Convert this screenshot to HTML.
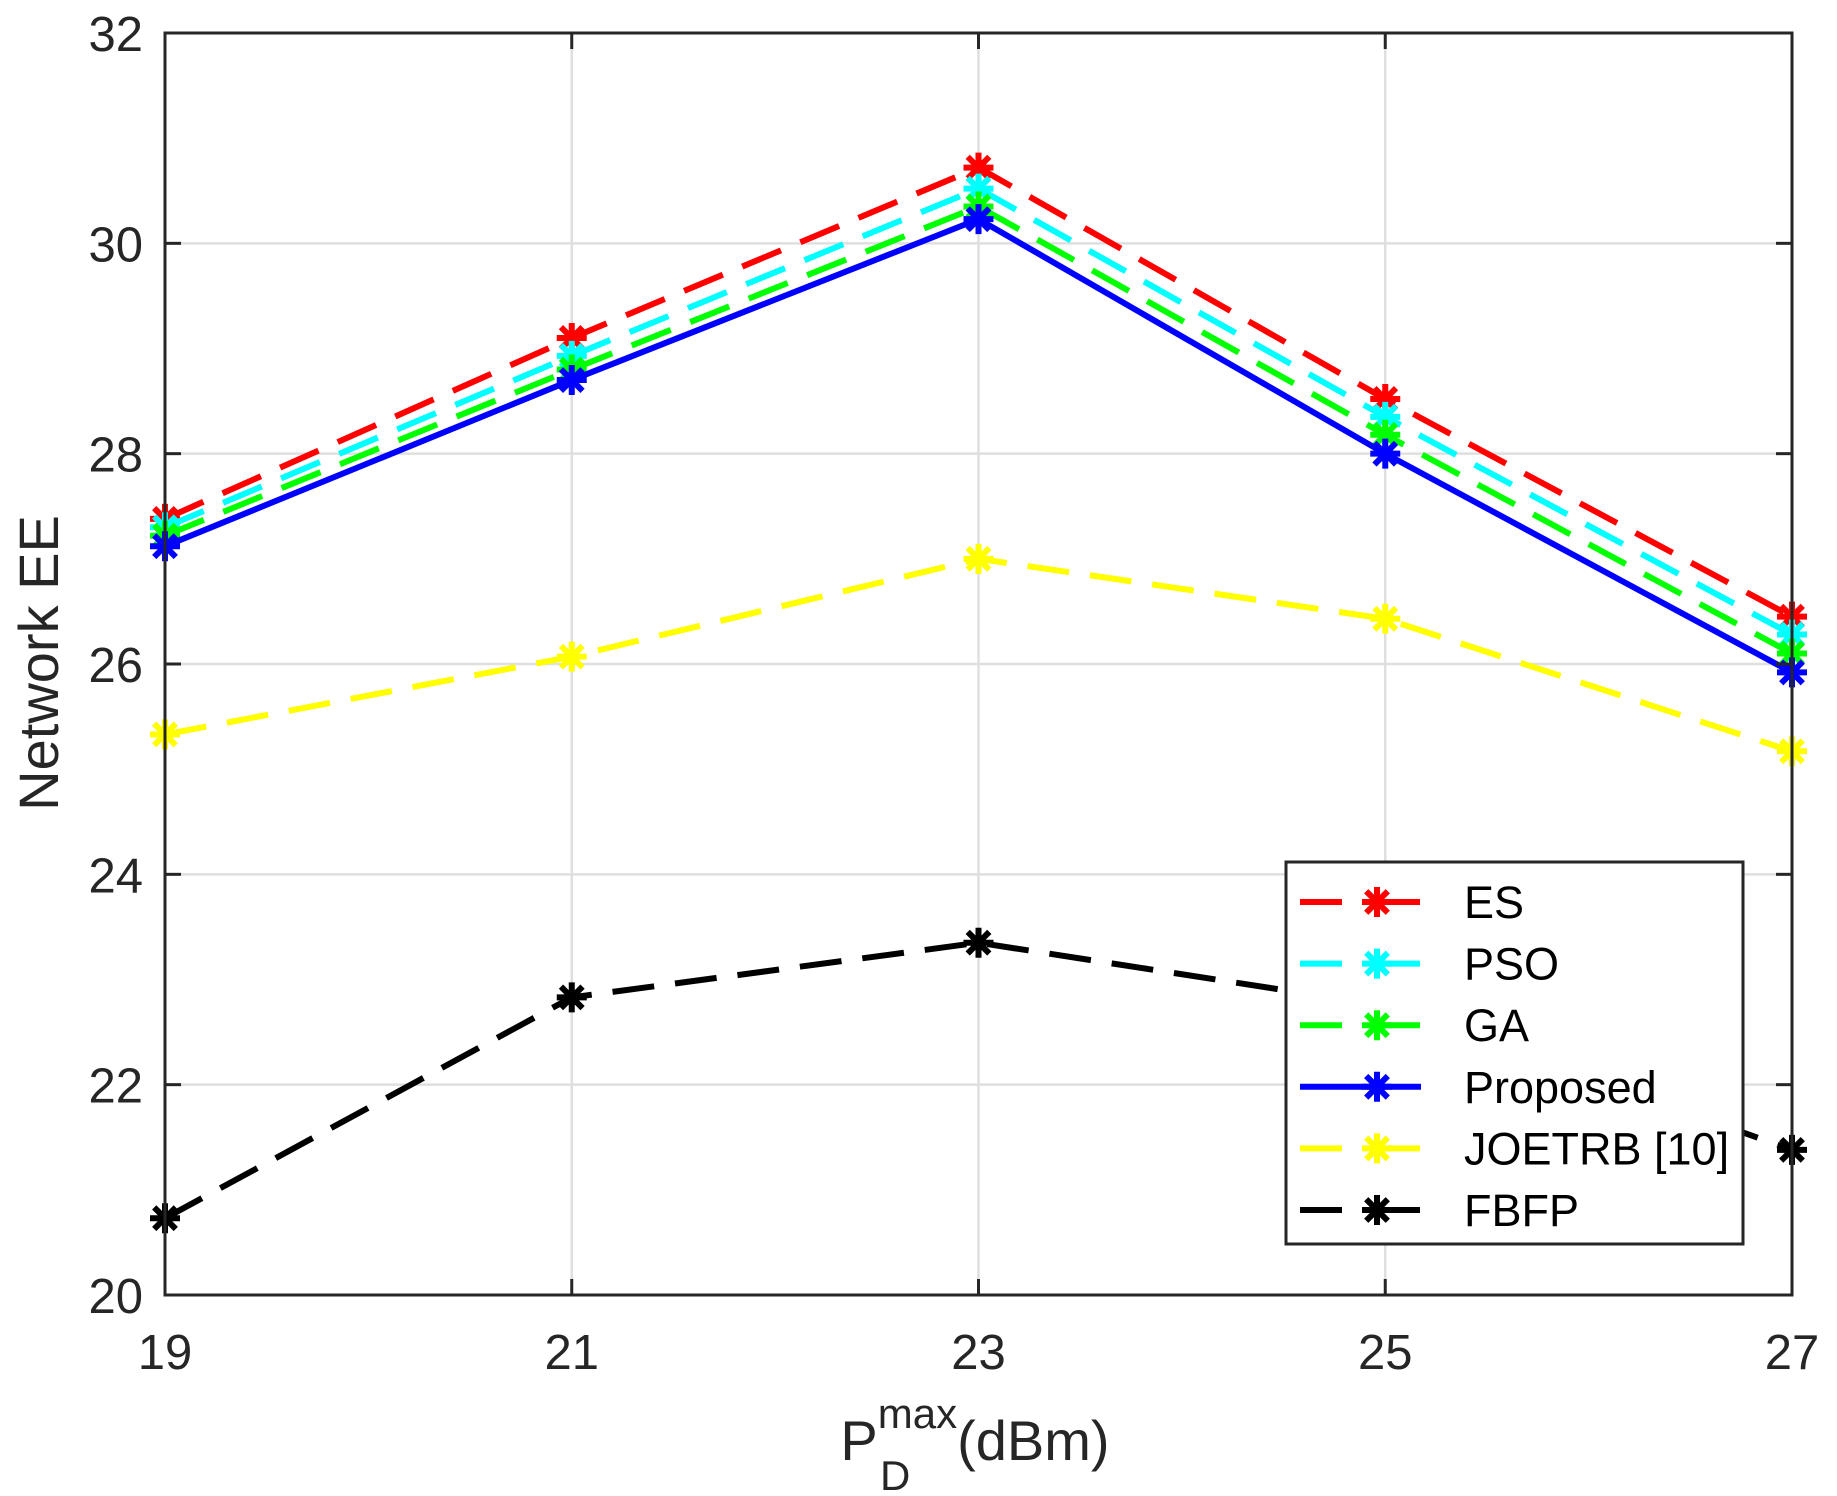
<!DOCTYPE html>
<html><head><meta charset="utf-8"><style>
html,body{margin:0;padding:0;background:#fff;}
svg{display:block;font-family:"Liberation Sans",sans-serif;}
</style></head><body>
<svg id="chart" width="1837" height="1496" viewBox="0 0 1837 1496" xmlns="http://www.w3.org/2000/svg">
<g id="grid"></g>
<g id="series"></g>
<g id="axes"></g>
<text x="0" y="0" transform="translate(58,663) rotate(-90)" text-anchor="middle" font-size="56" fill="#262626">Network EE</text>
<text x="975" y="1460" text-anchor="middle" font-size="56" fill="#262626">P<tspan font-size="42" dy="-32">max</tspan><tspan dy="32">(dBm)</tspan></text>
<text x="880" y="1490" font-size="42" fill="#262626">D</text>
<g id="legend"></g>
</svg>
<script>
const categories = [19, 21, 23, 25, 27];
const seriesNames = ["ES", "PSO", "GA", "Proposed", "JOETRB [10]", "FBFP"];
const esValues = [27.38, 29.10, 30.72, 28.52, 26.45];
const psoValues = [27.30, 28.93, 30.52, 28.35, 26.28];
const gaValues = [27.22, 28.80, 30.35, 28.18, 26.10];
const proposedValues = [27.12, 28.70, 30.23, 28.00, 25.92];
const joetrbValues = [25.33, 26.07, 27.00, 26.43, 25.17];
const fbfpValues = [20.73, 22.83, 23.35, 22.75, 21.38];
const yTicks = [20, 22, 24, 26, 28, 30, 32];
const xTicks = [19, 21, 23, 25, 27];

const NS = "http://www.w3.org/2000/svg";
const L = 165, R = 1792, T = 33, B = 1295;
const xScale = v => L + (v - 19) / 8 * (R - L);
const yScale = v => B - (v - 20) / 12 * (B - T);
function mk(tag, attrs, parent) {
  const e = document.createElementNS(NS, tag);
  for (const k in attrs) e.setAttribute(k, attrs[k]);
  parent.appendChild(e);
  return e;
}
const grid = document.getElementById('grid');
const axes = document.getElementById('axes');
const seriesG = document.getElementById('series');
const legend = document.getElementById('legend');

xTicks.forEach(t => {
  const x = xScale(t);
  const g = mk('line', {x1: x, x2: x, y1: T, y2: B, stroke: '#dfdfdf', 'stroke-width': 2.5}, grid);
  
  
  const t1 = mk('line', {x1: x, x2: x, y1: B, y2: B - 16, stroke: '#262626', 'stroke-width': 3}, axes);
  
  
  const t2 = mk('line', {x1: x, x2: x, y1: T, y2: T + 16, stroke: '#262626', 'stroke-width': 3}, axes);
  
  
  const lb = mk('text', {x: x, y: 1369, 'text-anchor': 'middle', 'font-size': 49, fill: '#262626'}, axes);
  lb.textContent = t;
  
  
});
yTicks.forEach(t => {
  const y = yScale(t);
  const g = mk('line', {x1: L, x2: R, y1: y, y2: y, stroke: '#dfdfdf', 'stroke-width': 2.5}, grid);
  
  
  const t1 = mk('line', {x1: L, x2: L + 16, y1: y, y2: y, stroke: '#262626', 'stroke-width': 3}, axes);
  
  
  const t2 = mk('line', {x1: R, x2: R - 16, y1: y, y2: y, stroke: '#262626', 'stroke-width': 3}, axes);
  
  
  const lb = mk('text', {x: 143, y: y + 18, 'text-anchor': 'end', 'font-size': 49, fill: '#262626'}, axes);
  lb.textContent = t;
  
  
});
const frame = mk('rect', {x: L, y: T, width: R - L, height: B - T, fill: 'none', stroke: '#262626', 'stroke-width': 3}, axes);



function star(cx, cy, color, parent) {
  const s = 15;
  const d = `M${cx-s},${cy}L${cx+s},${cy}M${cx},${cy-s}L${cx},${cy+s}M${cx-s*0.72},${cy-s*0.72}L${cx+s*0.72},${cy+s*0.72}M${cx-s*0.72},${cy+s*0.72}L${cx+s*0.72},${cy-s*0.72}`;
  return mk('path', {d: d, stroke: color, 'stroke-width': 6, fill: 'none'}, parent);
}
const allSeries = [
  {vals: esValues, color: '#ff0000', dash: '42 21'},
  {vals: psoValues, color: '#00ffff', dash: '42 21'},
  {vals: gaValues, color: '#00ff00', dash: '42 21'},
  {vals: joetrbValues, color: '#ffff00', dash: '42 21'},
  {vals: fbfpValues, color: '#000000', dash: '42 21'},
  {vals: proposedValues, color: '#0000ff', dash: 'none'}
];
allSeries.forEach(s => {
  const pts = s.vals.map((v, i) => xScale(categories[i]) + ',' + yScale(v)).join(' ');
  const pl = mk('polyline', {points: pts, fill: 'none', stroke: s.color, 'stroke-width': 6, 'stroke-dasharray': s.dash}, seriesG);
  
  
  s.vals.forEach((v, i) => {
    const m = star(xScale(categories[i]), yScale(v), s.color, seriesG);
    
    
  });
});

const lbox = mk('rect', {x: 1286, y: 862, width: 457, height: 382, fill: '#fff', stroke: '#262626', 'stroke-width': 3}, legend);


const legColors = ['#ff0000', '#00ffff', '#00ff00', '#0000ff', '#ffff00', '#000000'];
const legDash = [true, true, true, false, true, true];
seriesNames.forEach((n, i) => {
  const y = 902 + i * 61.6;
  const ln = mk('line', {x1: 1300, x2: 1421, y1: y, y2: y, stroke: legColors[i], 'stroke-width': 6, 'stroke-dasharray': legDash[i] ? '42 36' : 'none'}, legend);
  
  
  const m = star(1377, y, legColors[i], legend);
  
  
  const tx = mk('text', {x: 1464, y: y + 16, 'font-size': 45, fill: '#000'}, legend);
  tx.textContent = n;
  
  
});
</script>
</body></html>
